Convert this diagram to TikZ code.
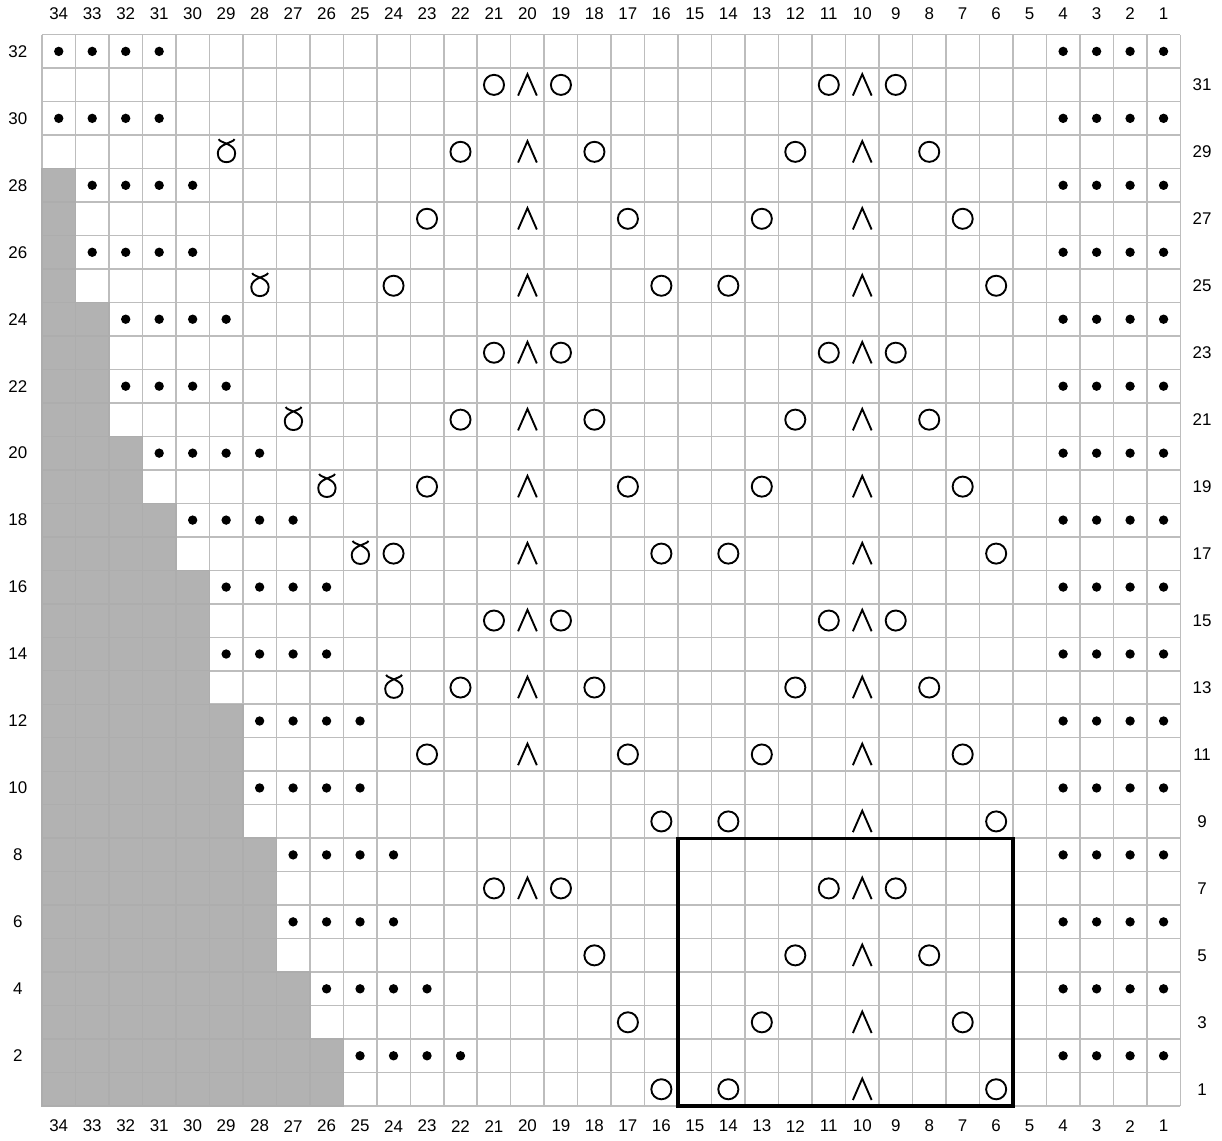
\documentclass[tikz,border=0pt]{standalone}
\usepackage{fontspec}
\setmainfont{Liberation Sans}
\tikzset{
  cellgrid/.style={draw=gray!52, line width=0.65pt},
  graycell/.style={fill=gray!60, draw=gray!64, line width=0.6pt},
  symb/.style={draw=black, line width=0.8pt},
  repeatbox/.style={draw=black, line width=1.4pt},
  chartlabel/.style={font=\fontsize{7.2}{8}\selectfont, inner sep=0pt},
  dec/.pic={\draw[symb] (-0.28,-0.32) -- (0,0.32) -- (0.28,-0.32);},
  twist/.pic={\draw[symb] (-0.22,0.38) .. controls (-0.21,0.27) and (0.27,0.25) .. (0.27,-0.04)
      .. controls (0.27,-0.22) and (0.15,-0.31) .. (0.01,-0.31)
      .. controls (-0.13,-0.31) and (-0.25,-0.22) .. (-0.25,-0.04)
      .. controls (-0.25,0.25) and (0.23,0.27) .. (0.25,0.38);},
}
\begin{document}
\begin{tikzpicture}[x=0.5cm, y=0.5cm]
    \useasboundingbox (-1.2545,-1.0155) rectangle (35.245,33.035);

    % Grid
    \foreach \i in {0,...,34}
      \draw[cellgrid] (\i,0) -- (\i,32);
    \foreach \j in {0,...,32}
      \draw[cellgrid] (0,\j) -- (34,\j);

    % Gray cells (no stitch)
    \foreach \r/\g in {1/9,2/9,3/8,4/8,5/7,6/7,7/7,8/7,9/6,10/6,11/6,12/6,13/5,14/5,15/5,16/5,
                      17/4,18/4,19/3,20/3,21/2,22/2,23/2,24/2,25/1,26/1,27/1,28/1}
      \foreach \i in {1,...,\g}
        \draw[graycell] (\i-1,\r-1) rectangle (\i,\r);

    % Purl dots on even rows
    \foreach \r/\g in {2/9,4/8,6/7,8/7,10/6,12/6,14/5,16/5,18/4,20/3,22/2,24/2,26/1,28/1,30/0,32/0} {
      \foreach \k in {0,...,3}
        \fill (\g+\k+0.5,\r-0.5) circle (0.14);
      \foreach \k in {30,...,33}
        \fill (\k+0.5,\r-0.5) circle (0.14);
    }

    % Yarn overs
    \foreach \r/\cols in {31/{21,19,11,9},29/{22,18,12,8},27/{23,17,13,7},25/{24,16,14,6},
                          23/{21,19,11,9},21/{22,18,12,8},19/{23,17,13,7},17/{24,16,14,6},
                          15/{21,19,11,9},13/{22,18,12,8},11/{23,17,13,7},9/{16,14,6},
                          7/{21,19,11,9},5/{18,12,8},3/{17,13,7},1/{16,14,6}}
      \foreach \c in \cols
        \draw[symb] (34.5-\c,\r-0.5) circle (0.3);

    % Decreases
    \foreach \r in {1,3,...,31}
      \pic at (24.5,\r-0.5) {dec};
    \foreach \r in {7,11,13,...,31}
      \pic at (14.5,\r-0.5) {dec};

    % Twisted stitches
    \foreach \r/\c in {29/29,25/28,21/27,19/26,17/25,13/24}
      \pic at (34.5-\c,\r-0.5) {twist};

    % Repeat box
    \draw[repeatbox] (19,0) rectangle (29,8);

    % Column numbers
    \foreach \c in {1,...,34} {
      \node[chartlabel] (top\c) at (34.5-\c,32.62) {\c};
      \node[chartlabel] (bot\c) at (34.5-\c,-0.6) {\c};
    }

    % Row numbers
    \foreach \r in {2,4,...,32}
      \node[chartlabel] (row\r) at (-0.72,\r-0.5) {\r};
    \foreach \r in {1,3,...,31}
      \node[chartlabel] (row\r) at (34.65,\r-0.5) {\r};

\end{tikzpicture}
\end{document}
